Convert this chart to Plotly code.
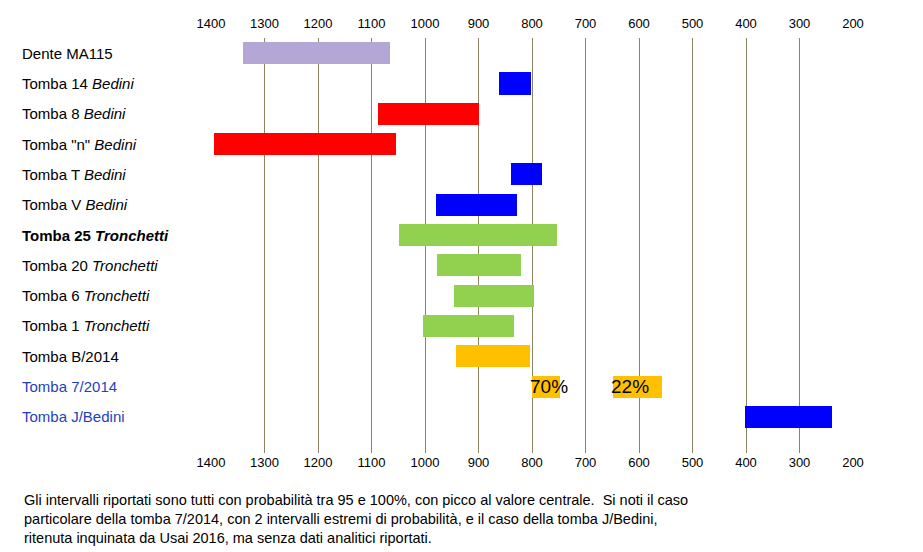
import plotly.graph_objects as go

labels = ["Dente MA115", "Tomba 14 <i>Bedini</i>", "Tomba 8 <i>Bedini</i>", 'Tomba "n" <i>Bedini</i>',
          "Tomba T <i>Bedini</i>", "Tomba V <i>Bedini</i>", "<b>Tomba 25 <i>Tronchetti</i></b>",
          "Tomba 20 <i>Tronchetti</i>", "Tomba 6 <i>Tronchetti</i>", "Tomba 1 <i>Tronchetti</i>",
          "Tomba B/2014", "Tomba 7/2014", "Tomba J/Bedini"]
label_colors = ["black"] * 11 + ["#1f3fbf", "#1f3fbf"]
starts = [1340, 862, 1088, 1394, 839, 979, 1049, 978, 946, 1004, 942, 800, 402]
ends = [1065, 802, 899, 1054, 781, 828, 753, 821, 796, 834, 804, 748, 239]
colors = ["#b4a7d6", "#0000ff", "#ff0000", "#ff0000", "#0000ff", "#0000ff", "#92d050",
          "#92d050", "#92d050", "#92d050", "#ffc000", "#ffc000", "#0000ff"]
# second interval of tomba 7/2014
extra_start, extra_end = 649, 557
pct_labels = ["70%", "22%"]
ticks = list(range(1400, 199, -100))

rows = list(range(len(labels)))
fig = go.Figure()
fig.add_trace(go.Bar(
    y=rows + [11], base=ends + [extra_end],
    x=[s - e for s, e in zip(starts, ends)] + [extra_start - extra_end],
    orientation="h", marker=dict(color=colors + ["#ffc000"], line_width=0),
    width=0.73, showlegend=False, hoverinfo="skip",
))
fig.add_trace(go.Scatter(x=[1400, 200], y=[0, 0], xaxis="x2", mode="markers",
                         marker=dict(opacity=0), showlegend=False, hoverinfo="skip"))

for i, (lab, c) in enumerate(zip(labels, label_colors)):
    fig.add_annotation(x=(12 - 203) / 642, xref="paper", y=i, yref="y", text=lab,
                       xanchor="left", showarrow=False, font=dict(size=15, color=c))
for xs, t in zip([starts[11], extra_start], pct_labels):
    fig.add_annotation(x=xs, y=11, text=t, xanchor="left", showarrow=False,
                       font=dict(size=19, color="black"), xshift=-4)

fig.add_annotation(
    x=(14 - 203) / 642, xref="paper", y=-0.09, yref="paper", yanchor="top", xanchor="left", align="left",
    showarrow=False, font=dict(size=14.5, color="black"),
    text="Gli intervalli riportati sono tutti con probabilità tra 95 e 100%, con picco al valore centrale.  Si noti il caso<br>"
         "particolare della tomba 7/2014, con 2 intervalli estremi di probabilità, e il caso della tomba J/Bedini,<br>"
         "ritenuta inquinata da Usai 2016, ma senza dati analitici riportati.")

axis_common = dict(range=[1400, 200], tickvals=ticks, showgrid=True, gridcolor="#8c8360",
                   gridwidth=1, zeroline=False, showline=False, tickfont=dict(size=13, color="black"))
fig.update_layout(
    width=923, height=552, plot_bgcolor="white", paper_bgcolor="white",
    margin=dict(l=203, r=78, t=30, b=107, autoexpand=False),
    font=dict(family="Liberation Sans, Arial", color="black"),
    xaxis=dict(side="top", ticklabelstandoff=6, **axis_common),
    xaxis2=dict(overlaying="x", side="bottom", matches="x", **axis_common),
    yaxis=dict(range=[13.19, -0.5], showticklabels=False, showgrid=False, zeroline=False),
    bargap=0,
)
fig.write_html("out.html")
